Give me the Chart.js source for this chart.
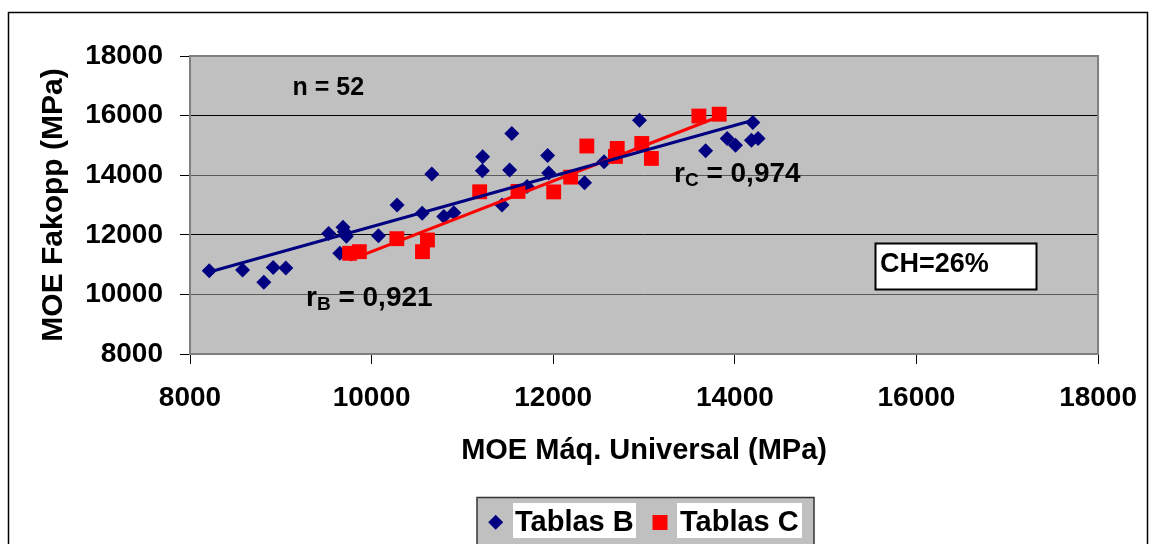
<!DOCTYPE html>
<html>
<head>
<meta charset="utf-8">
<script src="https://cdn.jsdelivr.net/npm/chart.js@4/dist/chart.umd.min.js"></script>
<style>
  html, body { margin: 0; padding: 0; background: #fff; overflow: hidden; }
  canvas { display: block; }
</style>
</head>
<body>
<canvas id="c" width="1154" height="544"></canvas>
<script>
// MOE measured on the universal testing machine (x) vs Fakopp stress-wave MOE (y), MPa
const tablasB_x = [8212, 8579, 8813, 8916, 9055, 9527, 9685, 9700, 9722, 9650,
  10075, 10280, 10557, 10663, 10795, 10905, 11223, 11220, 11544, 11520, 11436, 11712,
  11938, 11950, 12345, 12560, 12950, 13678, 13916, 14007, 14198, 14183, 14256];
const tablasB_y = [10790, 10820, 10410, 10900, 10890, 12040, 12250, 12100, 11950, 11380,
  11970, 13000, 12720, 14037, 12610, 12740, 14617, 14150, 15400, 14171, 13000, 13620,
  14660, 14070, 13745, 14449, 15846, 14818, 15233, 15008, 15769, 15176, 15233];

const tablasC_x = [9758, 9865, 10278, 10560, 10615, 11190, 11612, 12005, 12192, 12370,
  12705, 12685, 12975, 13081, 13604, 13828];
const tablasC_y = [11380, 11434, 11870, 11434, 11826, 13444, 13455, 13440, 13935, 14980,
  14898, 14630, 15065, 14563, 15985, 16047];

// Linear trend lines (end points of each fitted line)
const trendB_x = [8212, 14230];
const trendB_y = [10750, 15870];
const trendC_x = [9758, 13828];
const trendC_y = [11150, 15970];

const axisTicks = [8000, 10000, 12000, 14000, 16000, 18000];
const seriesNames = ['Tablas B', 'Tablas C'];
const xTitle = 'MOE Máq. Universal (MPa)';
const yTitle = 'MOE Fakopp (MPa)';
const rB = '0,921';
const rC = '0,974';
const sampleText = 'n = 52';
const moistureText = 'CH=26%';

const FONT = '"Liberation Sans", Arial, Helvetica, sans-serif';
const NAVY = '#000080';
const RED = '#ff0000';

const pts = (xs, ys) => xs.map((x, i) => ({ x, y: ys[i] }));

const decorations = {
  id: 'decorations',
  beforeDraw(chart) {
    const { ctx, chartArea: a } = chart;
    ctx.save();
    // outer frame
    ctx.strokeStyle = '#000';
    ctx.lineWidth = 1.5;
    ctx.strokeRect(8.5, 12.5, 1139, 620);
    // plot background
    ctx.fillStyle = '#c0c0c0';
    ctx.fillRect(a.left, a.top, a.right - a.left, a.bottom - a.top);
    ctx.restore();
  },
  beforeDatasetsDraw(chart) {
    const { ctx, chartArea: a } = chart;
    ctx.save();
    ctx.strokeStyle = '#808080';
    ctx.lineWidth = 2;
    ctx.strokeRect(a.left, a.top, a.right - a.left, a.bottom - a.top);
    ctx.restore();
  },
  afterDraw(chart) {
    const { ctx } = chart;
    ctx.save();
    ctx.fillStyle = '#000';
    ctx.textBaseline = 'alphabetic';
    ctx.textAlign = 'left';

    ctx.font = 'bold 25px ' + FONT;
    ctx.fillText(sampleText, 292.5, 95);

    const coefficient = (x, y, sub, val) => {
      ctx.font = 'bold 28px ' + FONT;
      ctx.fillText('r', x, y);
      let cx = x + ctx.measureText('r').width;
      ctx.font = 'bold 19px ' + FONT;
      ctx.fillText(sub, cx, y + 4);
      cx += ctx.measureText(sub).width;
      ctx.font = 'bold 28px ' + FONT;
      ctx.fillText(' = ' + val, cx, y);
    };
    coefficient(306, 306, 'B', rB);
    coefficient(674, 182, 'C', rC);

    // moisture content box
    ctx.fillStyle = '#fff';
    ctx.fillRect(875.5, 243.5, 161, 46);
    ctx.strokeStyle = '#000';
    ctx.lineWidth = 2;
    ctx.strokeRect(875.5, 243.5, 161, 46);
    ctx.fillStyle = '#000';
    ctx.font = 'bold 27px ' + FONT;
    ctx.fillText(moistureText, 880, 272);

    // legend
    ctx.fillStyle = '#c0c0c0';
    ctx.fillRect(477, 497.5, 337, 80);
    ctx.strokeStyle = '#333';
    ctx.lineWidth = 1.5;
    ctx.strokeRect(477, 497.5, 337, 80);

    ctx.fillStyle = NAVY;
    ctx.beginPath();
    ctx.moveTo(495.7 - 7.5, 522.3);
    ctx.lineTo(495.7, 522.3 - 7.5);
    ctx.lineTo(495.7 + 7.5, 522.3);
    ctx.lineTo(495.7, 522.3 + 7.5);
    ctx.closePath();
    ctx.fill();

    ctx.fillStyle = RED;
    ctx.fillRect(652.5, 515, 15, 15);

    ctx.fillStyle = '#fff';
    ctx.fillRect(513, 503, 123, 35);
    ctx.fillRect(677, 503, 125, 35);

    ctx.fillStyle = '#000';
    ctx.font = 'bold 29px ' + FONT;
    ctx.fillText(seriesNames[0], 515, 531);
    ctx.fillText(seriesNames[1], 680, 531);
    ctx.restore();
  }
};

new Chart(document.getElementById('c'), {
  type: 'scatter',
  data: {
    datasets: [
      {
        label: 'trend B', type: 'line', data: pts(trendB_x, trendB_y),
        borderColor: NAVY, borderWidth: 3, pointRadius: 0, fill: false, order: 0
      },
      {
        label: 'trend C', type: 'line', data: pts(trendC_x, trendC_y),
        borderColor: RED, borderWidth: 3, pointRadius: 0, fill: false, order: 1
      },
      {
        label: seriesNames[1], data: pts(tablasC_x, tablasC_y),
        pointStyle: 'rect', pointRadius: 10.5, backgroundColor: RED, borderColor: RED,
        borderWidth: 0, order: 2
      },
      {
        label: seriesNames[0], data: pts(tablasB_x, tablasB_y),
        pointStyle: 'rectRot', pointRadius: 7.5, backgroundColor: NAVY, borderColor: NAVY,
        borderWidth: 0, order: 3
      }
    ]
  },
  options: {
    responsive: false,
    animation: false,
    events: [],
    layout: { padding: { left: 0, top: 56, right: 54, bottom: 0 } },
    plugins: { legend: { display: false }, tooltip: { enabled: false } },
    scales: {
      x: {
        type: 'linear', min: axisTicks[0], max: axisTicks[axisTicks.length - 1],
        afterBuildTicks: s => { s.ticks = axisTicks.map(v => ({ value: v })); },
        afterFit: s => { s.height = 190; },
        ticks: {
          callback: v => String(v), color: '#000', padding: 17,
          font: { family: FONT, size: 28, weight: 'bold' }, maxRotation: 0
        },
        grid: { drawOnChartArea: false, drawTicks: true, tickLength: 10, tickColor: '#000' },
        border: { display: true, color: '#808080', width: 2 },
        title: {
          display: true, text: xTitle, color: '#000',
          font: { family: FONT, size: 29, weight: 'bold' },
          padding: { top: 0, bottom: 76 }
        }
      },
      y: {
        type: 'linear', min: axisTicks[0], max: axisTicks[axisTicks.length - 1],
        afterBuildTicks: s => { s.ticks = axisTicks.map(v => ({ value: v })); },
        afterFit: s => { s.width = 190; },
        ticks: {
          callback: v => String(v), color: '#000', padding: 17,
          font: { family: FONT, size: 28, weight: 'bold' }
        },
        grid: {
          color: c => (c.tick && (c.tick.value === 12000 || c.tick.value === 16000)) ? '#000' : '#5a5a5a',
          lineWidth: 1, drawTicks: true, tickLength: 10, tickColor: '#000'
        },
        border: { display: true, color: '#808080', width: 2 },
        title: {
          display: true, text: yTitle, color: '#000',
          font: { family: FONT, size: 30, weight: 'bold' },
          padding: { top: 36, bottom: 0 }
        }
      }
    }
  },
  plugins: [decorations]
});
</script>
</body>
</html>
